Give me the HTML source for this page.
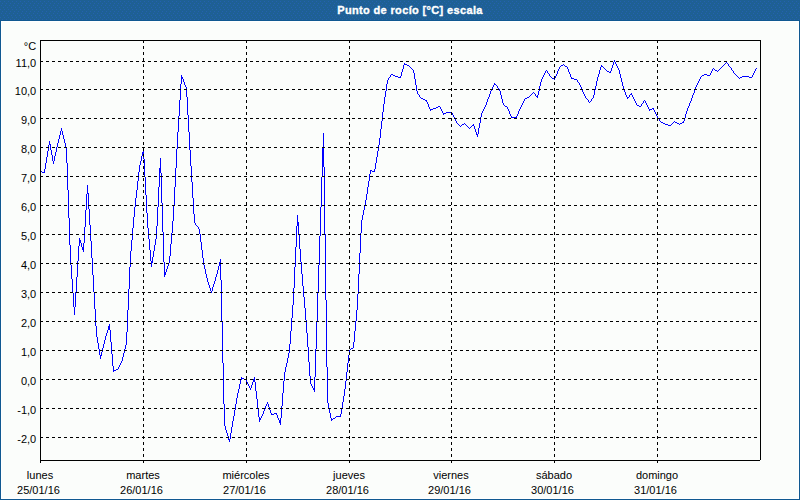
<!DOCTYPE html>
<html><head><meta charset="utf-8"><style>
html,body{margin:0;padding:0;width:800px;height:500px;overflow:hidden;background:#fbfdfb;}
svg{display:block;}
.g{stroke:#000;stroke-width:1;stroke-dasharray:3 3;shape-rendering:crispEdges;}
.yl{font-family:"Liberation Sans",sans-serif;font-size:11px;text-anchor:end;fill:#000;}
.xl{font-family:"Liberation Sans",sans-serif;font-size:11px;text-anchor:middle;fill:#000;}
.tt{font-family:"Liberation Sans",sans-serif;font-size:11px;font-weight:bold;letter-spacing:0.35px;stroke:#fff;stroke-width:0.35px;text-anchor:middle;fill:#fff;}
</style></head><body>
<svg width="800" height="500" viewBox="0 0 800 500">
<defs><pattern id="dith" x="0" y="0" width="8" height="8" patternUnits="userSpaceOnUse">
<rect width="8" height="8" fill="#1e6094"/>
<rect x="0" y="1" width="1" height="1" fill="#2461b0"/><rect x="4" y="1" width="1" height="1" fill="#2461b0"/><rect x="2" y="3" width="1" height="1" fill="#2461b0"/><rect x="6" y="3" width="1" height="1" fill="#2461b0"/><rect x="1" y="5" width="1" height="1" fill="#2461b0"/><rect x="5" y="5" width="1" height="1" fill="#2461b0"/><rect x="3" y="7" width="1" height="1" fill="#2461b0"/><rect x="7" y="7" width="1" height="1" fill="#2461b0"/>
</pattern></defs>
<rect x="0" y="0" width="800" height="500" fill="#fbfdfb"/>
<rect x="0" y="0" width="800" height="20" fill="url(#dith)"/>
<rect x="0" y="20" width="800" height="1" fill="#105891"/>
<rect x="0" y="20" width="1" height="480" fill="#105891"/>
<rect x="799" y="20" width="1" height="480" fill="#105891"/>
<rect x="0" y="499" width="800" height="1" fill="#105891"/>
<rect x="1" y="21" width="797" height="1" fill="#ffffff"/>
<rect x="1" y="21" width="1" height="477" fill="#ffffff"/>
<rect x="798" y="21" width="1" height="478" fill="#ffffff"/>
<rect x="1" y="498" width="798" height="1" fill="#ffffff"/>
<text x="410" y="14" class="tt">Punto de rocío [°C] escala</text>
<path d="M40 171h1v1h-1zM41 171h1v1h-1zM42 172h1v1h-1zM43 172h1v1h-1zM44 169h1v4h-1zM45 163h1v6h-1zM46 157h1v6h-1zM47 151h1v6h-1zM48 145h1v6h-1zM49 141h1v4h-1zM50 144h1v6h-1zM51 150h1v5h-1zM52 155h1v6h-1zM53 161h1v3h-1zM54 156h1v5h-1zM55 152h1v4h-1zM56 147h1v5h-1zM57 143h1v4h-1zM58 139h1v4h-1zM59 135h1v4h-1zM60 131h1v4h-1zM61 128h1v3h-1zM62 131h1v4h-1zM63 135h1v4h-1zM64 139h1v4h-1zM65 143h1v4h-1zM66 147h1v16h-1zM67 163h1v27h-1zM68 190h1v28h-1zM69 218h1v27h-1zM70 245h1v20h-1zM71 265h1v14h-1zM72 279h1v14h-1zM73 293h1v14h-1zM74 307h1v8h-1zM75 292h1v15h-1zM76 277h1v15h-1zM77 261h1v16h-1zM78 246h1v15h-1zM79 238h1v8h-1zM80 240h1v3h-1zM81 243h1v4h-1zM82 247h1v3h-1zM83 243h1v9h-1zM84 227h1v16h-1zM85 210h1v17h-1zM86 194h1v16h-1zM87 185h1v9h-1zM88 193h1v16h-1zM89 209h1v16h-1zM90 225h1v16h-1zM91 241h1v17h-1zM92 258h1v17h-1zM93 275h1v17h-1zM94 292h1v17h-1zM95 309h1v17h-1zM96 326h1v11h-1zM97 337h1v6h-1zM98 343h1v6h-1zM99 349h1v6h-1zM100 355h1v4h-1zM101 352h1v4h-1zM102 348h1v4h-1zM103 344h1v4h-1zM104 340h1v4h-1zM105 336h1v4h-1zM106 333h1v3h-1zM107 330h1v3h-1zM108 326h1v4h-1zM109 324h1v6h-1zM110 330h1v12h-1zM111 342h1v12h-1zM112 354h1v12h-1zM113 366h1v6h-1zM114 370h1v1h-1zM115 370h1v1h-1zM116 369h1v1h-1zM117 369h1v1h-1zM118 367h1v2h-1zM119 365h1v2h-1zM120 363h1v2h-1zM121 361h1v2h-1zM122 357h1v4h-1zM123 353h1v4h-1zM124 349h1v4h-1zM125 345h1v4h-1zM126 332h1v13h-1zM127 310h1v22h-1zM128 289h1v21h-1zM129 267h1v22h-1zM130 251h1v16h-1zM131 240h1v11h-1zM132 228h1v12h-1zM133 217h1v11h-1zM134 207h1v10h-1zM135 198h1v9h-1zM136 190h1v8h-1zM137 181h1v9h-1zM138 172h1v9h-1zM139 165h1v7h-1zM140 161h1v4h-1zM141 156h1v5h-1zM142 152h1v4h-1zM143 149h1v10h-1zM144 159h1v18h-1zM145 177h1v18h-1zM146 195h1v18h-1zM147 213h1v15h-1zM148 228h1v11h-1zM149 239h1v11h-1zM150 250h1v11h-1zM151 261h1v6h-1zM152 257h1v6h-1zM153 251h1v6h-1zM154 245h1v6h-1zM155 239h1v6h-1zM156 226h1v13h-1zM157 207h1v19h-1zM158 187h1v20h-1zM159 168h1v19h-1zM160 158h1v15h-1zM161 173h1v30h-1zM162 203h1v29h-1zM163 232h1v30h-1zM164 262h1v15h-1zM165 272h1v3h-1zM166 269h1v3h-1zM167 266h1v3h-1zM168 263h1v3h-1zM169 256h1v7h-1zM170 244h1v12h-1zM171 233h1v11h-1zM172 221h1v12h-1zM173 206h1v15h-1zM174 187h1v19h-1zM175 168h1v19h-1zM176 149h1v19h-1zM177 132h1v17h-1zM178 116h1v16h-1zM179 100h1v16h-1zM180 84h1v16h-1zM181 75h1v9h-1zM182 77h1v2h-1zM183 79h1v3h-1zM184 82h1v3h-1zM185 85h1v2h-1zM186 87h1v10h-1zM187 97h1v18h-1zM188 115h1v17h-1zM189 132h1v18h-1zM190 150h1v16h-1zM191 166h1v16h-1zM192 182h1v16h-1zM193 198h1v16h-1zM194 214h1v9h-1zM195 223h1v2h-1zM196 225h1v1h-1zM197 226h1v1h-1zM198 227h1v2h-1zM199 229h1v5h-1zM200 234h1v8h-1zM201 242h1v8h-1zM202 250h1v8h-1zM203 258h1v7h-1zM204 265h1v4h-1zM205 269h1v5h-1zM206 274h1v4h-1zM207 278h1v4h-1zM208 282h1v3h-1zM209 285h1v3h-1zM210 288h1v3h-1zM211 291h1v2h-1zM212 287h1v4h-1zM213 284h1v3h-1zM214 281h1v3h-1zM215 277h1v4h-1zM216 274h1v3h-1zM217 270h1v4h-1zM218 266h1v4h-1zM219 262h1v4h-1zM220 259h1v21h-1zM221 280h1v41h-1zM222 321h1v42h-1zM223 363h1v41h-1zM224 404h1v22h-1zM225 426h1v4h-1zM226 430h1v3h-1zM227 433h1v3h-1zM228 436h1v4h-1zM229 439h1v3h-1zM230 433h1v6h-1zM231 427h1v6h-1zM232 421h1v6h-1zM233 416h1v5h-1zM234 410h1v6h-1zM235 404h1v6h-1zM236 398h1v6h-1zM237 393h1v5h-1zM238 389h1v4h-1zM239 384h1v5h-1zM240 380h1v4h-1zM241 377h1v3h-1zM242 378h1v1h-1zM243 378h1v1h-1zM244 379h1v1h-1zM245 379h1v1h-1zM246 380h1v2h-1zM247 382h1v2h-1zM248 384h1v2h-1zM249 386h1v2h-1zM250 388h1v2h-1zM251 385h1v3h-1zM252 382h1v3h-1zM253 379h1v3h-1zM254 377h1v5h-1zM255 382h1v9h-1zM256 391h1v8h-1zM257 399h1v9h-1zM258 408h1v9h-1zM259 417h1v5h-1zM260 418h1v2h-1zM261 416h1v2h-1zM262 414h1v2h-1zM263 411h1v3h-1zM264 409h1v2h-1zM265 406h1v3h-1zM266 404h1v2h-1zM267 402h1v2h-1zM268 404h1v3h-1zM269 407h1v3h-1zM270 410h1v3h-1zM271 413h1v2h-1zM272 414h1v1h-1zM273 414h1v1h-1zM274 413h1v1h-1zM275 413h1v1h-1zM276 413h1v2h-1zM277 415h1v3h-1zM278 418h1v2h-1zM279 420h1v3h-1zM280 418h1v7h-1zM281 406h1v12h-1zM282 393h1v13h-1zM283 381h1v12h-1zM284 372h1v9h-1zM285 367h1v5h-1zM286 363h1v4h-1zM287 358h1v5h-1zM288 353h1v5h-1zM289 344h1v9h-1zM290 331h1v13h-1zM291 318h1v13h-1zM292 305h1v13h-1zM293 288h1v17h-1zM294 267h1v21h-1zM295 247h1v20h-1zM296 226h1v21h-1zM297 215h1v11h-1zM298 222h1v13h-1zM299 235h1v14h-1zM300 249h1v13h-1zM301 262h1v12h-1zM302 274h1v12h-1zM303 286h1v11h-1zM304 297h1v11h-1zM305 308h1v12h-1zM306 320h1v13h-1zM307 333h1v14h-1zM308 347h1v15h-1zM309 362h1v14h-1zM310 376h1v8h-1zM311 384h1v2h-1zM312 386h1v2h-1zM313 388h1v2h-1zM314 377h1v15h-1zM315 349h1v28h-1zM316 321h1v28h-1zM317 293h1v28h-1zM318 265h1v28h-1zM319 236h1v29h-1zM320 207h1v29h-1zM321 177h1v30h-1zM322 148h1v29h-1zM323 133h1v34h-1zM324 167h1v67h-1zM325 234h1v66h-1zM326 300h1v67h-1zM327 367h1v36h-1zM328 403h1v5h-1zM329 408h1v5h-1zM330 413h1v5h-1zM331 418h1v3h-1zM332 419h1v1h-1zM333 418h1v1h-1zM334 418h1v1h-1zM335 417h1v1h-1zM336 416h1v1h-1zM337 416h1v1h-1zM338 416h1v1h-1zM339 416h1v1h-1zM340 414h1v3h-1zM341 408h1v6h-1zM342 402h1v6h-1zM343 396h1v6h-1zM344 389h1v7h-1zM345 381h1v8h-1zM346 372h1v9h-1zM347 363h1v9h-1zM348 355h1v8h-1zM349 350h1v5h-1zM350 349h1v1h-1zM351 348h1v1h-1zM352 348h1v1h-1zM353 342h1v6h-1zM354 331h1v11h-1zM355 321h1v10h-1zM356 310h1v11h-1zM357 294h1v16h-1zM358 274h1v20h-1zM359 253h1v21h-1zM360 233h1v20h-1zM361 220h1v13h-1zM362 215h1v5h-1zM363 210h1v5h-1zM364 205h1v5h-1zM365 200h1v5h-1zM366 194h1v6h-1zM367 187h1v7h-1zM368 181h1v6h-1zM369 174h1v7h-1zM370 170h1v4h-1zM371 170h1v1h-1zM372 171h1v1h-1zM373 171h1v1h-1zM374 169h1v3h-1zM375 163h1v6h-1zM376 157h1v6h-1zM377 151h1v6h-1zM378 145h1v6h-1zM379 138h1v7h-1zM380 129h1v9h-1zM381 121h1v8h-1zM382 112h1v9h-1zM383 104h1v8h-1zM384 97h1v7h-1zM385 91h1v6h-1zM386 84h1v7h-1zM387 80h1v4h-1zM388 78h1v2h-1zM389 77h1v1h-1zM390 75h1v2h-1zM391 74h1v1h-1zM392 74h1v1h-1zM393 75h1v1h-1zM394 75h1v1h-1zM395 76h1v1h-1zM396 76h1v1h-1zM397 76h1v1h-1zM398 77h1v1h-1zM399 77h1v1h-1zM400 76h1v2h-1zM401 72h1v4h-1zM402 69h1v3h-1zM403 65h1v4h-1zM404 63h1v2h-1zM405 64h1v1h-1zM406 64h1v1h-1zM407 65h1v1h-1zM408 65h1v1h-1zM409 66h1v1h-1zM410 67h1v1h-1zM411 68h1v1h-1zM412 69h1v1h-1zM413 70h1v3h-1zM414 73h1v6h-1zM415 79h1v6h-1zM416 85h1v6h-1zM417 91h1v3h-1zM418 94h1v1h-1zM419 95h1v2h-1zM420 97h1v1h-1zM421 98h1v1h-1zM422 98h1v1h-1zM423 99h1v1h-1zM424 99h1v1h-1zM425 100h1v1h-1zM426 100h1v2h-1zM427 102h1v2h-1zM428 104h1v3h-1zM429 107h1v2h-1zM430 109h1v2h-1zM431 109h1v1h-1zM432 109h1v1h-1zM433 108h1v1h-1zM434 108h1v1h-1zM435 108h1v1h-1zM436 107h1v1h-1zM437 107h1v1h-1zM438 106h1v1h-1zM439 106h1v1h-1zM440 107h1v2h-1zM441 109h1v2h-1zM442 111h1v2h-1zM443 113h1v2h-1zM444 113h1v1h-1zM445 113h1v1h-1zM446 112h1v1h-1zM447 112h1v1h-1zM448 112h1v1h-1zM449 112h1v1h-1zM450 112h1v1h-1zM451 112h1v1h-1zM452 113h1v2h-1zM453 115h1v2h-1zM454 117h1v2h-1zM455 119h1v2h-1zM456 121h1v2h-1zM457 123h1v1h-1zM458 124h1v1h-1zM459 125h1v1h-1zM460 126h1v1h-1zM461 125h1v1h-1zM462 124h1v1h-1zM463 124h1v1h-1zM464 123h1v1h-1zM465 124h1v1h-1zM466 125h1v1h-1zM467 126h1v1h-1zM468 127h1v1h-1zM469 128h1v1h-1zM470 127h1v1h-1zM471 126h1v1h-1zM472 125h1v1h-1zM473 124h1v2h-1zM474 126h1v3h-1zM475 129h1v3h-1zM476 132h1v3h-1zM477 134h1v3h-1zM478 128h1v6h-1zM479 123h1v5h-1zM480 117h1v6h-1zM481 113h1v4h-1zM482 111h1v2h-1zM483 109h1v2h-1zM484 107h1v2h-1zM485 105h1v2h-1zM486 102h1v3h-1zM487 99h1v3h-1zM488 97h1v2h-1zM489 94h1v3h-1zM490 91h1v3h-1zM491 89h1v2h-1zM492 87h1v2h-1zM493 85h1v2h-1zM494 83h1v2h-1zM495 84h1v1h-1zM496 85h1v1h-1zM497 86h1v2h-1zM498 88h1v1h-1zM499 89h1v2h-1zM500 91h1v4h-1zM501 95h1v4h-1zM502 99h1v4h-1zM503 103h1v2h-1zM504 105h1v1h-1zM505 106h1v1h-1zM506 106h1v1h-1zM507 107h1v2h-1zM508 109h1v2h-1zM509 111h1v3h-1zM510 114h1v2h-1zM511 116h1v2h-1zM512 117h1v1h-1zM513 117h1v1h-1zM514 117h1v1h-1zM515 117h1v1h-1zM516 116h1v2h-1zM517 114h1v2h-1zM518 111h1v3h-1zM519 109h1v2h-1zM520 107h1v2h-1zM521 105h1v2h-1zM522 103h1v2h-1zM523 101h1v2h-1zM524 99h1v2h-1zM525 98h1v1h-1zM526 98h1v1h-1zM527 97h1v1h-1zM528 97h1v1h-1zM529 96h1v1h-1zM530 95h1v1h-1zM531 94h1v1h-1zM532 93h1v1h-1zM533 92h1v1h-1zM534 93h1v1h-1zM535 94h1v2h-1zM536 96h1v1h-1zM537 95h1v3h-1zM538 91h1v4h-1zM539 86h1v5h-1zM540 82h1v4h-1zM541 79h1v3h-1zM542 77h1v2h-1zM543 75h1v2h-1zM544 73h1v2h-1zM545 71h1v2h-1zM546 70h1v1h-1zM547 71h1v2h-1zM548 73h1v1h-1zM549 74h1v2h-1zM550 76h1v1h-1zM551 77h1v1h-1zM552 78h1v1h-1zM553 78h1v1h-1zM554 78h1v2h-1zM555 76h1v2h-1zM556 74h1v2h-1zM557 71h1v3h-1zM558 69h1v2h-1zM559 67h1v2h-1zM560 66h1v1h-1zM561 65h1v1h-1zM562 65h1v1h-1zM563 64h1v1h-1zM564 65h1v1h-1zM565 66h1v1h-1zM566 66h1v1h-1zM567 67h1v2h-1zM568 69h1v3h-1zM569 72h1v2h-1zM570 74h1v3h-1zM571 77h1v2h-1zM572 78h1v1h-1zM573 78h1v1h-1zM574 79h1v1h-1zM575 79h1v1h-1zM576 79h1v1h-1zM577 80h1v2h-1zM578 82h1v1h-1zM579 83h1v2h-1zM580 85h1v2h-1zM581 87h1v2h-1zM582 89h1v3h-1zM583 92h1v2h-1zM584 94h1v2h-1zM585 96h1v2h-1zM586 98h1v1h-1zM587 99h1v1h-1zM588 100h1v2h-1zM589 102h1v1h-1zM590 101h1v1h-1zM591 99h1v2h-1zM592 98h1v1h-1zM593 95h1v3h-1zM594 90h1v5h-1zM595 86h1v4h-1zM596 81h1v5h-1zM597 77h1v4h-1zM598 74h1v3h-1zM599 70h1v4h-1zM600 67h1v3h-1zM601 65h1v2h-1zM602 66h1v1h-1zM603 67h1v1h-1zM604 68h1v1h-1zM605 69h1v1h-1zM606 70h1v1h-1zM607 71h1v1h-1zM608 71h1v1h-1zM609 72h1v1h-1zM610 71h1v2h-1zM611 68h1v3h-1zM612 65h1v3h-1zM613 62h1v3h-1zM614 60h1v2h-1zM615 62h1v2h-1zM616 64h1v2h-1zM617 66h1v2h-1zM618 68h1v2h-1zM619 70h1v4h-1zM620 74h1v4h-1zM621 78h1v4h-1zM622 82h1v4h-1zM623 86h1v4h-1zM624 90h1v2h-1zM625 92h1v3h-1zM626 95h1v2h-1zM627 97h1v2h-1zM628 97h1v1h-1zM629 95h1v2h-1zM630 94h1v1h-1zM631 93h1v2h-1zM632 95h1v2h-1zM633 97h1v2h-1zM634 99h1v2h-1zM635 101h1v2h-1zM636 103h1v2h-1zM637 105h1v1h-1zM638 105h1v1h-1zM639 106h1v1h-1zM640 106h1v1h-1zM641 104h1v2h-1zM642 103h1v1h-1zM643 101h1v2h-1zM644 100h1v1h-1zM645 101h1v2h-1zM646 103h1v2h-1zM647 105h1v2h-1zM648 107h1v2h-1zM649 109h1v2h-1zM650 109h1v1h-1zM651 109h1v1h-1zM652 108h1v1h-1zM653 108h1v2h-1zM654 110h1v2h-1zM655 112h1v2h-1zM656 114h1v2h-1zM657 116h1v2h-1zM658 118h1v1h-1zM659 119h1v2h-1zM660 121h1v1h-1zM661 122h1v1h-1zM662 122h1v1h-1zM663 123h1v1h-1zM664 123h1v1h-1zM665 124h1v1h-1zM666 124h1v1h-1zM667 124h1v1h-1zM668 125h1v1h-1zM669 125h1v1h-1zM670 125h1v1h-1zM671 124h1v1h-1zM672 123h1v1h-1zM673 122h1v1h-1zM674 121h1v1h-1zM675 122h1v1h-1zM676 122h1v1h-1zM677 123h1v1h-1zM678 123h1v1h-1zM679 124h1v1h-1zM680 123h1v1h-1zM681 123h1v1h-1zM682 122h1v1h-1zM683 121h1v2h-1zM684 118h1v3h-1zM685 114h1v4h-1zM686 111h1v3h-1zM687 108h1v3h-1zM688 106h1v2h-1zM689 103h1v3h-1zM690 101h1v2h-1zM691 98h1v3h-1zM692 95h1v3h-1zM693 93h1v2h-1zM694 90h1v3h-1zM695 87h1v3h-1zM696 85h1v2h-1zM697 83h1v2h-1zM698 81h1v2h-1zM699 79h1v2h-1zM700 77h1v2h-1zM701 76h1v1h-1zM702 75h1v1h-1zM703 75h1v1h-1zM704 74h1v1h-1zM705 74h1v1h-1zM706 74h1v1h-1zM707 75h1v1h-1zM708 75h1v1h-1zM709 75h1v1h-1zM710 73h1v2h-1zM711 71h1v2h-1zM712 69h1v2h-1zM713 68h1v1h-1zM714 69h1v1h-1zM715 70h1v1h-1zM716 70h1v1h-1zM717 71h1v1h-1zM718 70h1v1h-1zM719 69h1v1h-1zM720 68h1v1h-1zM721 67h1v1h-1zM722 66h1v1h-1zM723 65h1v1h-1zM724 64h1v1h-1zM725 63h1v1h-1zM726 62h1v1h-1zM727 63h1v1h-1zM728 64h1v2h-1zM729 66h1v1h-1zM730 67h1v1h-1zM731 68h1v2h-1zM732 70h1v1h-1zM733 71h1v2h-1zM734 73h1v1h-1zM735 74h1v1h-1zM736 75h1v1h-1zM737 76h1v1h-1zM738 77h1v1h-1zM739 78h1v1h-1zM740 77h1v1h-1zM741 77h1v1h-1zM742 76h1v1h-1zM743 76h1v1h-1zM744 76h1v1h-1zM745 76h1v1h-1zM746 76h1v1h-1zM747 76h1v1h-1zM748 76h1v1h-1zM749 77h1v1h-1zM750 77h1v1h-1zM751 77h1v1h-1zM752 75h1v2h-1zM753 73h1v2h-1zM754 71h1v2h-1zM755 69h1v2h-1zM756 68h1v1h-1z" fill="#0000ff" shape-rendering="crispEdges"/>
<line x1="40" y1="61.5" x2="760" y2="61.5" class="g"/>
<line x1="40" y1="89.5" x2="760" y2="89.5" class="g"/>
<line x1="40" y1="118.5" x2="760" y2="118.5" class="g"/>
<line x1="40" y1="147.5" x2="760" y2="147.5" class="g"/>
<line x1="40" y1="176.5" x2="760" y2="176.5" class="g"/>
<line x1="40" y1="205.5" x2="760" y2="205.5" class="g"/>
<line x1="40" y1="234.5" x2="760" y2="234.5" class="g"/>
<line x1="40" y1="263.5" x2="760" y2="263.5" class="g"/>
<line x1="40" y1="292.5" x2="760" y2="292.5" class="g"/>
<line x1="40" y1="321.5" x2="760" y2="321.5" class="g"/>
<line x1="40" y1="350.5" x2="760" y2="350.5" class="g"/>
<line x1="40" y1="379.5" x2="760" y2="379.5" class="g"/>
<line x1="40" y1="408.5" x2="760" y2="408.5" class="g"/>
<line x1="40" y1="437.5" x2="760" y2="437.5" class="g"/>
<line x1="143.5" y1="40" x2="143.5" y2="460" class="g"/>
<line x1="246.5" y1="40" x2="246.5" y2="460" class="g"/>
<line x1="349.5" y1="40" x2="349.5" y2="460" class="g"/>
<line x1="451.5" y1="40" x2="451.5" y2="460" class="g"/>
<line x1="554.5" y1="40" x2="554.5" y2="460" class="g"/>
<line x1="657.5" y1="40" x2="657.5" y2="460" class="g"/>
<rect x="40" y="40" width="720" height="1" fill="#000"/>
<rect x="40" y="40" width="1" height="423" fill="#000"/>
<rect x="760" y="40" width="1" height="420" fill="#000"/>
<rect x="40" y="460" width="720" height="1" fill="#000"/>
<rect x="143" y="461" width="1" height="2" fill="#000"/>
<rect x="246" y="461" width="1" height="2" fill="#000"/>
<rect x="349" y="461" width="1" height="2" fill="#000"/>
<rect x="451" y="461" width="1" height="2" fill="#000"/>
<rect x="554" y="461" width="1" height="2" fill="#000"/>
<rect x="657" y="461" width="1" height="2" fill="#000"/>
<text x="36.2" y="67" class="yl">11,0</text>
<text x="36.2" y="95" class="yl">10,0</text>
<text x="36.2" y="124" class="yl">9,0</text>
<text x="36.2" y="153" class="yl">8,0</text>
<text x="36.2" y="182" class="yl">7,0</text>
<text x="36.2" y="211" class="yl">6,0</text>
<text x="36.2" y="240" class="yl">5,0</text>
<text x="36.2" y="269" class="yl">4,0</text>
<text x="36.2" y="298" class="yl">3,0</text>
<text x="36.2" y="327" class="yl">2,0</text>
<text x="36.2" y="356" class="yl">1,0</text>
<text x="36.2" y="385" class="yl">0,0</text>
<text x="36.2" y="414" class="yl">-1,0</text>
<text x="36.2" y="443" class="yl">-2,0</text>
<text x="36.2" y="50" class="yl">°C</text>
<text x="40" y="479" class="xl">lunes</text>
<text x="38.5" y="494" class="xl">25/01/16</text>
<text x="143" y="479" class="xl">martes</text>
<text x="141.5" y="494" class="xl">26/01/16</text>
<text x="246" y="479" class="xl">miércoles</text>
<text x="244.5" y="494" class="xl">27/01/16</text>
<text x="349" y="479" class="xl">jueves</text>
<text x="347.5" y="494" class="xl">28/01/16</text>
<text x="451" y="479" class="xl">viernes</text>
<text x="449.5" y="494" class="xl">29/01/16</text>
<text x="554" y="479" class="xl">sábado</text>
<text x="552.5" y="494" class="xl">30/01/16</text>
<text x="657" y="479" class="xl">domingo</text>
<text x="655.5" y="494" class="xl">31/01/16</text>
</svg>
</body></html>
